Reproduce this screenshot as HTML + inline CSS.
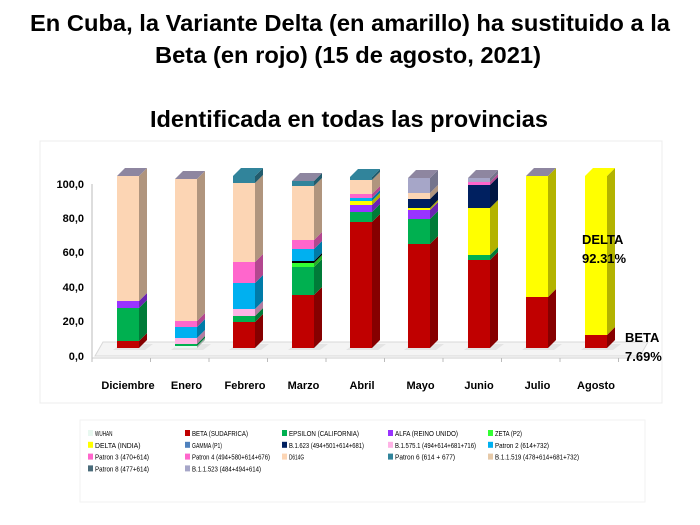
<!DOCTYPE html>
<html><head><meta charset="utf-8"><style>
body{margin:0;background:#fff;}
svg{display:block;font-family:"Liberation Sans",sans-serif;}
</style></head><body>
<svg id="s" width="700" height="525" viewBox="0 0 700 525" xmlns="http://www.w3.org/2000/svg">
<text x="350" y="31" font-size="23" font-weight="bold" text-anchor="middle" textLength="640" lengthAdjust="spacingAndGlyphs">En Cuba, la Variante Delta (en amarillo) ha sustituido a la</text>
<text x="348" y="63" font-size="23" font-weight="bold" text-anchor="middle" textLength="386" lengthAdjust="spacingAndGlyphs">Beta (en rojo) (15 de agosto, 2021)</text>
<text x="349" y="127" font-size="23" font-weight="bold" text-anchor="middle" textLength="398" lengthAdjust="spacingAndGlyphs">Identificada en todas las provincias</text>
<rect x="40" y="141" width="622" height="262" fill="none" stroke="#ececec"/>
<rect x="80" y="420" width="565" height="82" fill="none" stroke="#f2f2f2"/>
<g id="g"></g>
</svg>
<script>
const g=document.getElementById('g');let h='';
h+='<polygon points="95,356 640,356 648,342 103,342" fill="#f4f4f4" stroke="#d8d8d8"/>';
h+='<line x1="92" y1="184" x2="92" y2="358" stroke="#bbb"/><line x1="92" y1="358" x2="640" y2="358" stroke="#ccc"/>';
const ticks=[["100,0",184],["80,0",218],["60,0",252],["40,0",287],["20,0",321],["0,0",356]];
for(const [t,y] of ticks){h+=`<text x="84" y="${y+4}" font-size="11" font-weight="bold" text-anchor="end">${t}</text>`;}
for(let i=0;i<10;i++){const x=92+i*58.5;h+=`<line x1="${x}" y1="358" x2="${x}" y2="362" stroke="#bbb"/>`;}
const C={red:'#c00000',grn:'#00b050',pur:'#9933ff',pch:'#fcd5b4',lgt:'#e8f8f0',lpk:'#ffb3e6',blu:'#00b0f0',pnk:'#ff66cc',tea:'#31849b',lav:'#a6a6c8',bgr:'#33ff33',blk:'#000',yel:'#ffff00',nav:'#002060',gry:'#8e86a0'};
function dk(c){const n=parseInt(c.slice(1),16);let r=n>>16,g2=(n>>8)&255,b=n&255;r=Math.round(r*.7);g2=Math.round(g2*.7);b=Math.round(b*.7);return `rgb(${r},${g2},${b})`;}
const bars=[
[117,[[348,'red'],[341,'grn'],[308,'pur'],[301,'pch'],[176,'gry']]],
[175,[[348,'lgt'],[346,'grn'],[344,'lpk'],[338,'blu'],[327,'pnk'],[321,'pch'],[179,'gry']]],
[233,[[348,'red'],[322,'grn'],[316,'lpk'],[309,'blu'],[283,'pnk'],[262,'pch'],[183,'tea'],[176,'tea']]],
[292,[[348,'red'],[295,'grn'],[267,'bgr'],[263,'blk'],[261,'blu'],[249,'pnk'],[240,'pch'],[186,'tea'],[181,'gry']]],
[350,[[348,'red'],[222,'grn'],[212,'pur'],[205,'yel'],[201,'blu'],[198,'pnk'],[194,'pch'],[180,'tea'],[177,'tea']]],
[408,[[348,'red'],[244,'grn'],[219,'pur'],[210,'yel'],[208,'nav'],[199,'pch'],[193,'lav'],[178,'gry']]],
[468,[[348,'red'],[260,'grn'],[255,'yel'],[208,'nav'],[185,'pnk'],[182,'lav'],[178,'gry']]],
[526,[[348,'red'],[297,'yel'],[176,'gry']]],
[585,[[348,'red'],[335,'yel'],[176,'yel']]]];
const W=22,D=8;
for(const [x,s] of bars){
 h+=`<polygon points="${x-4},350 ${x+W+6},350 ${x+W+14},344 ${x+4},344" fill="#ddd" opacity=".7"/>`;
 for(let i=0;i<s.length-1;i++){const y0=s[i][0],y1=s[i+1][0],c=C[s[i][1]];
  h+=`<rect x="${x}" y="${y1}" width="${W}" height="${y0-y1}" fill="${c}"/>`;
  h+=`<polygon points="${x+W},${y0} ${x+W+D},${y0-8} ${x+W+D},${y1-8} ${x+W},${y1}" fill="${dk(c)}"/>`;}
 const yt=s[s.length-1][0],ct=C[s[s.length-1][1]];
 h+=`<polygon points="${x},${yt} ${x+W},${yt} ${x+W+D},${yt-8} ${x+D},${yt-8}" fill="${ct}"/>`;
}
const cats=["Diciembre","Enero","Febrero","Marzo","Abril","Mayo","Junio","Julio","Agosto"];
cats.forEach((c,i)=>{h+=`<text x="${128+i*58.5}" y="389" font-size="11" font-weight="bold" text-anchor="middle">${c}</text>`;});
h+='<text x="582" y="244" font-size="13" font-weight="bold">DELTA</text><text x="582" y="263" font-size="13" font-weight="bold">92.31%</text>';
h+='<text x="625" y="342" font-size="13" font-weight="bold">BETA</text><text x="625" y="361" font-size="13" font-weight="bold">7.69%</text>';
const L=[[['lgt','WUHAN'],['red','BETA (SUDAFRICA)'],['grn','EPSILON (CALIFORNIA)'],['pur','ALFA (REINO UNIDO)'],['bgr','ZETA (P2)']],
[['yel','DELTA (INDIA)'],['#4f81bd','GAMMA (P1)'],['nav','B.1.623 (494+501+614+681)'],['lpk','B.1.575.1 (494+614+681+716)'],['blu','Patron 2 (614+732)']],
[['pnk','Patron 3 (470+614)'],['#ff66cc','Patron 4 (494+580+614+676)'],['pch','D614G'],['tea','Patron 6 (614 + 677)'],['#e6c9a8','B.1.1.519  (478+614+681+732)']],
[['#4a6b7a','Patron 8 (477+614)'],['lav','B.1.1.523 (484+494+614)']]];
const lx=[88,185,282,388,488];
L.forEach((row,r)=>row.forEach((e,k)=>{const y=436+r*11.8;const c=e[0][0]=='#'?e[0]:C[e[0]];
 const caps=/^[A-Z (]+[A-Z)]$/.test(e[1])||/^[A-Z ]+\(/.test(e[1])&&!/\d/.test(e[1]);
 const tl=(e[1].length*(caps?3.5:3.0)).toFixed(1);
 h+=`<rect x="${lx[k]}" y="${y-6}" width="5" height="6" fill="${c}"/><text x="${lx[k]+7}" y="${y}" font-size="7.5" textLength="${tl}" lengthAdjust="spacingAndGlyphs">${e[1]}</text>`;}));
g.innerHTML=h;
</script>
</body></html>
